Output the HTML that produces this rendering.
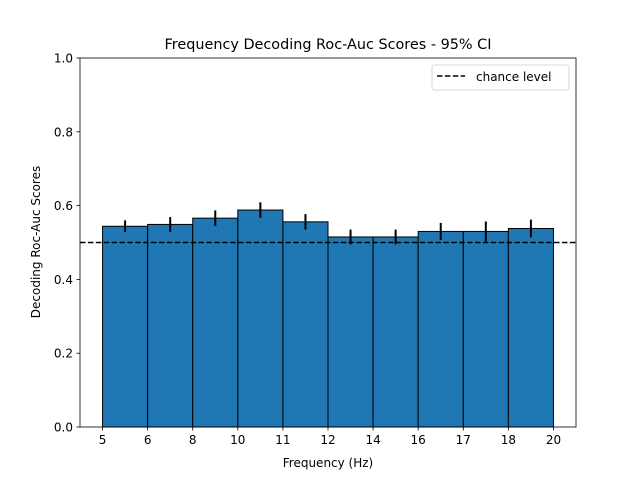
<!DOCTYPE html>
<html><head><meta charset="utf-8"><style>
body{margin:0;background:#fff}
svg text{font-family:"DejaVu Sans","Liberation Sans",sans-serif;fill:#000}
</style></head><body>
<svg width="640" height="480" xmlns="http://www.w3.org/2000/svg">
<rect width="640" height="480" fill="#fff"/>
<text x="328" y="49" font-size="14.4" text-anchor="middle">Frequency Decoding Roc-Auc Scores - 95% CI</text>
<g id="bars"></g>
<g id="errs"></g>
<line id="chance" x1="80" x2="576" stroke="#000" stroke-width="1.5" stroke-dasharray="5.5,2.4"/>
<rect x="80" y="58" width="496" height="369" fill="none" stroke="#000" stroke-width="0.8"/>
<g id="xt"></g>
<g id="yt"></g>
<text x="328" y="467" font-size="12" text-anchor="middle">Frequency (Hz)</text>
<text transform="translate(40,242) rotate(-90)" font-size="12" text-anchor="middle">Decoding Roc-Auc Scores</text>
<g>
<rect x="432" y="65" width="137" height="25" rx="2" fill="#fff" stroke="#ccc" stroke-width="0.8"/>
<line x1="437" x2="465" y1="76" y2="76" stroke="#000" stroke-width="1.5" stroke-dasharray="5.5,2.4"/>
<text x="476" y="81" font-size="12">chance level</text>
</g>
</svg>
<script>
const tickLabels=["5","6","8","10","11","12","14","16","17","18","20"];
const scores=[0.544,0.549,0.566,0.588,0.556,0.515,0.515,0.530,0.530,0.538];
const errors=[0.016,0.020,0.021,0.021,0.021,0.020,0.020,0.023,0.027,0.024];
const yTicks=[0,0.2,0.4,0.6,0.8,1.0];
const chance=0.5;
const NS="http://www.w3.org/2000/svg";
const L=80,R=576,T=58,B=427;
const n=tickLabels.length;
const xs=i=>L+(i+0.5)*(R-L)/n;
const ys=v=>B-v*(B-T);
function mk(tag,attrs,parent){const e=document.createElementNS(NS,tag);for(const k in attrs)e.setAttribute(k,attrs[k]);parent.appendChild(e);return e;}
const bars=document.getElementById('bars'),errs=document.getElementById('errs');
scores.forEach((v,i)=>{
 const r=mk('rect',{x:xs(i),y:ys(v),width:xs(i+1)-xs(i),height:B-ys(v),fill:'#1f77b4',stroke:'#000','stroke-width':1},bars);
 
 
 const cx=(xs(i)+xs(i+1))/2;
 const l=mk('line',{x1:cx,x2:cx,y1:ys(v+errors[i]),y2:ys(v-errors[i]),stroke:'#000','stroke-width':2},errs);
 
 
});
const ch=document.getElementById('chance');ch.setAttribute('y1',ys(chance));ch.setAttribute('y2',ys(chance));
const xt=document.getElementById('xt');
tickLabels.forEach((t,i)=>{
 const tk=mk('line',{x1:xs(i),x2:xs(i),y1:B,y2:B+3.5,stroke:'#000','stroke-width':0.8},xt);
 
 
 const tx=mk('text',{x:xs(i),y:B+17,'font-size':12,'text-anchor':'middle'},xt);tx.textContent=t;
 
 
});
const yt=document.getElementById('yt');
yTicks.forEach(v=>{
 const tk=mk('line',{x1:L-3.5,x2:L,y1:ys(v),y2:ys(v),stroke:'#000','stroke-width':0.8},yt);
 
 
 const tx=mk('text',{x:L-7,y:ys(v)+4.5,'font-size':12,'text-anchor':'end'},yt);tx.textContent=v.toFixed(1);
 
 
});
</script>
</body></html>
